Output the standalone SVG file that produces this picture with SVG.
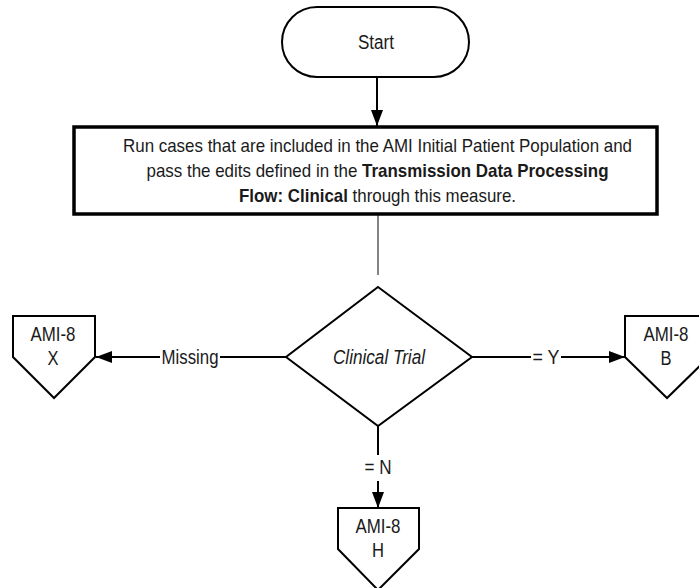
<svg xmlns="http://www.w3.org/2000/svg" width="699" height="588" viewBox="0 0 699 588">
<defs>
<style>
text{font-family:"Liberation Sans",Arial,sans-serif;font-size:19.5px;fill:#1a1a1a;text-anchor:middle}
.p{font-size:18.5px}
.shape{fill:#fff;stroke:#000;stroke-width:2}
.box{fill:#fff;stroke:#000;stroke-width:3.5}
.conn{fill:none;stroke:#000;stroke-width:2}
.thin{fill:none;stroke:#333;stroke-width:1.2}
.b{font-weight:bold}
.i{font-style:italic}
</style>
<marker id="arr" markerWidth="16" markerHeight="12" refX="16" refY="6" orient="auto" markerUnits="userSpaceOnUse">
<path d="M0,0 L16,6 L0,12 Z" fill="#000"/>
</marker>
</defs>
<rect width="699" height="588" fill="#fff"/>
<g id="connectors">
<line class="conn" x1="377" y1="77" x2="377" y2="126" marker-end="url(#arr)"/>
<line class="thin" x1="378" y1="215" x2="378" y2="275"/>
<line class="conn" x1="286" y1="357" x2="220" y2="357"/>
<line class="conn" x1="160" y1="357" x2="96" y2="357" marker-end="url(#arr)"/>
<line class="conn" x1="472" y1="357" x2="531" y2="357"/>
<line class="conn" x1="561" y1="357" x2="625" y2="357" marker-end="url(#arr)"/>
<line class="conn" x1="378" y1="426" x2="378" y2="455"/>
<line class="conn" x1="378" y1="481" x2="378" y2="508" marker-end="url(#arr)"/>
<text x="190" y="364" textLength="57" lengthAdjust="spacingAndGlyphs">Missing</text>
<text x="546" y="364" textLength="27" lengthAdjust="spacingAndGlyphs">= Y</text>
<text x="378" y="474" textLength="27" lengthAdjust="spacingAndGlyphs">= N</text>
</g>
<g id="start">
<rect class="shape" x="282" y="7" width="187" height="70" rx="35" ry="35"/>
<text x="376" y="49" textLength="36" lengthAdjust="spacingAndGlyphs">Start</text>
</g>
<g id="process">
<rect class="box" x="74" y="127" width="583" height="87"/>
<text class="p" x="377.5" y="152" textLength="509" lengthAdjust="spacingAndGlyphs">Run cases that are included in the AMI Initial Patient Population and</text>
<text class="p" x="377.5" y="177" textLength="462" lengthAdjust="spacingAndGlyphs">pass the edits defined in the <tspan class="b">Transmission Data Processing</tspan></text>
<text class="p" x="377.5" y="202" textLength="277" lengthAdjust="spacingAndGlyphs"><tspan class="b">Flow: Clinical</tspan> through this measure.</text>
</g>
<g id="decision">
<polygon class="shape" points="378,287 472,357 378,426 286,357"/>
<text class="i" x="379" y="364" textLength="92" lengthAdjust="spacingAndGlyphs">Clinical Trial</text>
</g>
<g id="ami8x">
<polygon class="shape" points="13,316 95,316 95,357 54,398 13,357"/>
<text x="53" y="341" textLength="45" lengthAdjust="spacingAndGlyphs">AMI-8</text>
<text x="53" y="365" textLength="11" lengthAdjust="spacingAndGlyphs">X</text>
</g>
<g id="ami8b">
<polygon class="shape" points="625,316 709,316 709,357 667,398 625,357"/>
<text x="666" y="341" textLength="45" lengthAdjust="spacingAndGlyphs">AMI-8</text>
<text x="666" y="365" textLength="11" lengthAdjust="spacingAndGlyphs">B</text>
</g>
<g id="ami8h">
<polygon class="shape" points="338,508 419,508 419,549 378,590 338,549"/>
<text x="378" y="533" textLength="45" lengthAdjust="spacingAndGlyphs">AMI-8</text>
<text x="378" y="557" textLength="12" lengthAdjust="spacingAndGlyphs">H</text>
</g>
</svg>
